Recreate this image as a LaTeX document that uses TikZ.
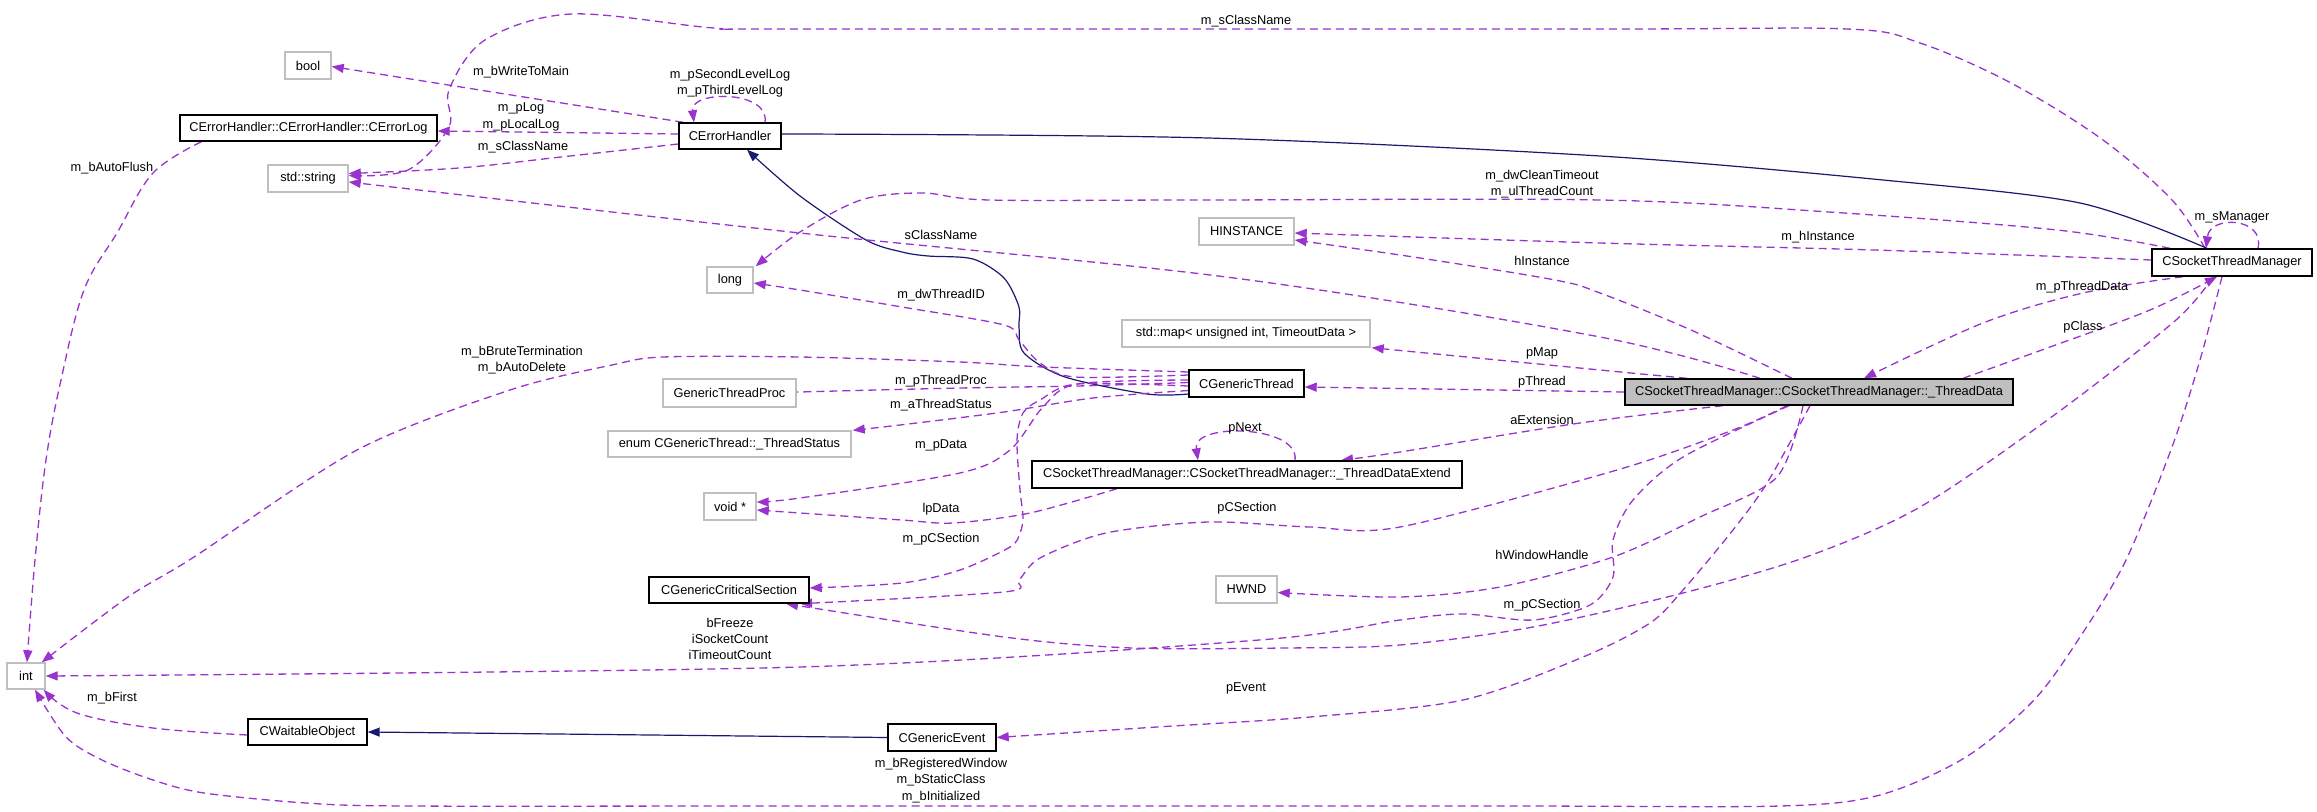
\documentclass[tikz,border=0pt]{standalone}
\usepackage{fontspec}
\setmainfont{Liberation Sans}
\usetikzlibrary{arrows.meta}
\definecolor{purp}{HTML}{9A32CD}
\definecolor{navyb}{HTML}{191970}
\definecolor{boxgray}{HTML}{BFBFBF}
\newcommand\dgfont{\fontsize{12.8}{16.2}\selectfont}
\pgfdeclarelayer{bg}
\pgfsetlayers{bg,main}
\tikzset{
 clsbox/.style={draw=black, line width=1.4pt, fill=white, rectangle, inner sep=0pt, font=\dgfont},
 extbox/.style={draw=boxgray, line width=1.4pt, fill=white, rectangle, inner sep=0pt, font=\dgfont},
 lbl/.style={font=\dgfont, align=center, inner sep=0pt},
 usedge/.style={draw=purp, line width=1.3pt, dash pattern=on 8pt off 5pt, -{Triangle[length=12pt,width=9pt]}},
 inhedge/.style={draw=navyb, line width=1.2pt, -{Triangle[length=12pt,width=9pt]}},
}
\begin{document}
\begin{tikzpicture}[x=1pt,y=-1pt]
\useasboundingbox (0,0) rectangle (2317,811);
% nodes
\node[extbox,minimum width=46pt,minimum height=27pt] (bool) at (308,65.5) {bool};
\node[clsbox,minimum width=257pt,minimum height=26pt] (cel) at (308.5,128) {CErrorHandler::CErrorHandler::CErrorLog};
\node[clsbox,minimum width=102pt,minimum height=26pt] (ceh) at (730,136) {CErrorHandler};
\node[extbox,minimum width=80pt,minimum height=27pt] (str) at (308,178.5) {std::string};
\node[extbox,minimum width=46pt,minimum height=26pt] (lng) at (730,280) {long};
\node[extbox,minimum width=133pt,minimum height=28pt] (gtp) at (729.5,393) {GenericThreadProc};
\node[extbox,minimum width=243pt,minimum height=26pt] (enm) at (729.5,444) {enum CGenericThread::\_ThreadStatus};
\node[extbox,minimum width=52pt,minimum height=27pt] (vd) at (730,506.5) {void *};
\node[clsbox,minimum width=160pt,minimum height=26pt] (cgcs) at (729,590) {CGenericCriticalSection};
\node[extbox,minimum width=38pt,minimum height=26pt] (int) at (26,676) {int};
\node[clsbox,minimum width=119pt,minimum height=26pt] (cwo) at (307.5,732) {CWaitableObject};
\node[extbox,minimum width=95pt,minimum height=27pt] (hin) at (1246.5,231.5) {HINSTANCE};
\node[extbox,minimum width=248pt,minimum height=27pt] (map) at (1246,333.5) {std::map< unsigned int, TimeoutData >};
\node[clsbox,minimum width=115pt,minimum height=27pt] (cgt) at (1246.5,383.5) {CGenericThread};
\node[clsbox,minimum width=430pt,minimum height=27pt] (tde) at (1247,474.5) {CSocketThreadManager::CSocketThreadManager::\_ThreadDataExtend};
\node[extbox,minimum width=61pt,minimum height=27pt] (hwnd) at (1246.5,589.5) {HWND};
\node[clsbox,minimum width=108pt,minimum height=27pt] (cge) at (942,737.5) {CGenericEvent};
\node[clsbox,minimum width=160pt,minimum height=27pt] (cstm) at (2232,262.5) {CSocketThreadManager};
\node[clsbox,fill=boxgray,minimum width=388pt,minimum height=26pt] (td) at (1819,392) {CSocketThreadManager::CSocketThreadManager::\_ThreadData};
% edges
\begin{pgfonlayer}{bg}
\draw[usedge] ([yshift=2pt]ceh.west) -- ([yshift=-3pt]cel.east);
\draw[usedge] ([xshift=5pt]ceh.north west) -- ([yshift=-1pt]bool.east);
\draw[usedge] plot[smooth,tension=.6] coordinates {([yshift=-8pt]ceh.west) (561,157) (459,168) ([yshift=5pt]str.east)};
\draw[usedge] ([xshift=35pt]ceh.north) .. controls (770,90) and (690,90) .. ([xshift=-36pt]ceh.north);
\draw[usedge] plot[smooth,tension=.6] coordinates {([xshift=-107pt]cel.south) (153,173) (117,233) (84,290) (61,380) (46,460) (35,560) ([xshift=1pt]int.north)};
\draw[usedge] plot[smooth,tension=.55] coordinates {([xshift=-27pt]cstm.north) (2172,200) (2103,140) (2011,83) (1920,43) (1847,29) (1600,29) (800,29) (714,28) (571,14) (485,40) (449,90) (449,127) (408,170) ([yshift=3pt]str.east)};
\draw[inhedge] plot[smooth,tension=.5] coordinates {([xshift=-25pt]cstm.north) (2080,203) (1883,180) (1600,156) (1208,138) (800,134) (ceh.east)};
\draw[inhedge] plot[smooth,tension=.5] coordinates {([yshift=-10.5pt]cgt.west) (1147,394) (1065,377) (1024,353) (1019,327) (1019,307) (1004,278) (973,259) (928,256) (902,252) (866,240) (800,196) ([xshift=17pt]ceh.south)};
\draw[inhedge] (cge.west) -- (cwo.east);
\draw[usedge] plot[smooth,tension=.6] coordinates {([yshift=-3pt]cwo.west) (153,728) (77,713) ([xshift=-2pt]int.south east)};
\draw[usedge] plot[smooth,tension=.5] coordinates {([xshift=-10pt]cstm.south) (2200,360) (2172,447) (2126,560) (2080,637) (2034,700) (1966,757) (1880,795) (1780,806) (1500,806) (800,806) (408,806) (306,803) (204,793) (153,780) (102,760) (66,737) ([xshift=9pt]int.south)};
\draw[usedge] plot[smooth,tension=.55] coordinates {([xshift=-62pt]cstm.north) (2057,230) (1829,212) (1600,200) (1200,200) (989,200) (922,193) (861,200) (800,232) ([xshift=2pt]lng.north east)};
\draw[usedge] plot[smooth,tension=.55] coordinates {([yshift=2.5pt]cstm.west) (1874,250) (1600,243) ([yshift=-1.5pt]hin.east)};
\draw[usedge] plot[smooth,tension=.55] coordinates {([xshift=-27pt]td.north) (1691,330) (1600,293) (1555,280) (1420,258) ([yshift=-8.5pt]hin.east)};
\draw[usedge] plot[smooth,tension=.55] coordinates {([xshift=-59pt]td.north) (1600,337) (1234,278) (800,233) ([yshift=-3.5pt]str.east)};
\draw[usedge] plot[smooth,tension=.55] coordinates {([xshift=-132pt]td.north) (1600,370) ([xshift=1pt]map.south east)};
\draw[usedge] (td.west) -- ([yshift=-3.5pt]cgt.east);
\draw[usedge] plot[smooth,tension=.55] coordinates {([xshift=-96pt]td.south) (1580,423) (1400,452) ([xshift=94pt]tde.north)};
\draw[usedge] ([xshift=48pt]tde.north) .. controls (1300,425) and (1192,422) .. ([xshift=-49pt]tde.north);
\draw[usedge] plot[smooth,tension=.55] coordinates {([xshift=-49pt]cstm.south) (2083,293) (1983,323) ([xshift=45pt]td.north)};
\draw[usedge] plot[smooth,tension=.55] coordinates {([xshift=144pt]td.north) (2050,347) (2150,310) ([xshift=-15pt]cstm.south)};
\draw[usedge] plot[smooth,tension=.5] coordinates {([xshift=-19pt]cstm.south) (2176,320) (2057,413) (1920,507) (1806,557) (1683,593) (1533,627) (1400,645) (1285,648) (1132,648) (1004,637) ([xshift=57pt]cgcs.south)};
\draw[usedge] plot[smooth,tension=.5] coordinates {([xshift=-32pt]td.south) (1733,430) (1617,470) (1400,527) (1310,527) (1208,522) (1106,533) (1040,558) (1019,580) (1004,592) ([xshift=71pt]cgcs.south)};
\draw[usedge] plot[smooth,tension=.5] coordinates {([yshift=-2.5pt]cgt.west) (1077,384) (1040,400) (1023,413) (1017,440) (1020,490) (1023,517) (1020,533) (1010,547) (960,570) (902,583) ([yshift=2pt]cgcs.east)};
\draw[usedge] plot[smooth,tension=.5] coordinates {([yshift=1pt]cgt.west) (1077,386) (960,388) (800,392) (gtp.east)};
\draw[usedge] plot[smooth,tension=.5] coordinates {([yshift=-7pt]cgt.west) (1093,398) (1004,412) (900,425) ([xshift=1pt]enm.north east)};
\draw[usedge] plot[smooth,tension=.5] coordinates {([yshift=3.5pt]cgt.west) (1077,384) (1043,407) (1010,450) (960,473) (800,498) ([yshift=4.5pt]vd.east)};
\draw[usedge] plot[smooth,tension=.5] coordinates {([xshift=-130pt]tde.south) (1030,513) (953,523) (902,520) (800,513) ([yshift=-3.5pt]vd.east)};
\draw[usedge] plot[smooth,tension=.5] coordinates {([yshift=8.5pt]cgt.west) (1075,377) (1040,363) (1019,340) (1004,325) (902,307) (800,290) ([yshift=-3pt]lng.east)};
\draw[usedge] plot[smooth,tension=.5] coordinates {([yshift=11.5pt]cgt.west) (1043,367) (960,362) (800,357) (663,357) (612,365) (510,390) (357,450) (194,557) (128,597) ([xshift=-4pt]int.north east)};
\draw[usedge] plot[smooth,tension=.5] coordinates {([xshift=-30pt]td.south) (1683,457) (1633,500) (1613,540) (1613,577) (1590,605) (1533,620) (1463,614) (1400,620) (1259,640) (800,667) (int.east)};
\draw[usedge] plot[smooth,tension=.5] coordinates {([xshift=-16pt]td.south) (1777,477) (1700,517) (1613,557) (1500,587) (1400,597) ([yshift=-3pt]hwnd.east)};
\draw[usedge] plot[smooth,tension=.5] coordinates {([xshift=-9pt]td.south) (1767,483) (1733,530) (1683,590) (1650,623) (1583,657) (1463,700) (1310,717) (1157,727) (cge.east)};
\draw[usedge] ([xshift=26pt]cstm.north) .. controls (2265,217) and (2210,215) .. ([xshift=-26pt]cstm.north);
\end{pgfonlayer}
% labels
\node[lbl] (l1) at (1246,21) {m\_sClassName};
\node[lbl] (l2) at (521,72) {m\_bWriteToMain};
\node[lbl] (l3) at (730,83) {m\_pSecondLevelLog\\m\_pThirdLevelLog};
\node[lbl] (l4) at (521,117) {m\_pLog\\m\_pLocalLog};
\node[lbl] (l5) at (523,147) {m\_sClassName};
\node[lbl] (l6) at (112,168) {m\_bAutoFlush};
\node[lbl] (l7) at (1542,184) {m\_dwCleanTimeout\\m\_ulThreadCount};
\node[lbl] (l8) at (941,235) {sClassName};
\node[lbl] (l9) at (1542,261) {hInstance};
\node[lbl] (l10) at (1818,237) {m\_hInstance};
\node[lbl] (l11) at (2232,217) {m\_sManager};
\node[lbl] (l12) at (941,295) {m\_dwThreadID};
\node[lbl] (l13) at (941,381) {m\_pThreadProc};
\node[lbl] (l14) at (941,405) {m\_aThreadStatus};
\node[lbl] (l15) at (941,445) {m\_pData};
\node[lbl] (l16) at (941,509) {lpData};
\node[lbl] (l17) at (941,539) {m\_pCSection};
\node[lbl] (l18) at (1542,353) {pMap};
\node[lbl] (l19) at (1542,382) {pThread};
\node[lbl] (l20) at (1542,420) {aExtension};
\node[lbl] (l21) at (1245,428) {pNext};
\node[lbl] (l22) at (1247,508) {pCSection};
\node[lbl] (l23) at (1542,555) {hWindowHandle};
\node[lbl] (l24) at (1542,605) {m\_pCSection};
\node[lbl] (l25) at (1246,688) {pEvent};
\node[lbl] (l26) at (941,780.5) {m\_bRegisteredWindow\\m\_bStaticClass\\m\_bInitialized};
\node[lbl] (l27) at (2082,287) {m\_pThreadData};
\node[lbl] (l28) at (2083,327) {pClass};
\node[lbl] (l29) at (522,360) {m\_bBruteTermination\\m\_bAutoDelete};
\node[lbl] (l30) at (730,639) {bFreeze\\iSocketCount\\iTimeoutCount};
\node[lbl] (l31) at (112,698) {m\_bFirst};
\end{tikzpicture}
\end{document}
